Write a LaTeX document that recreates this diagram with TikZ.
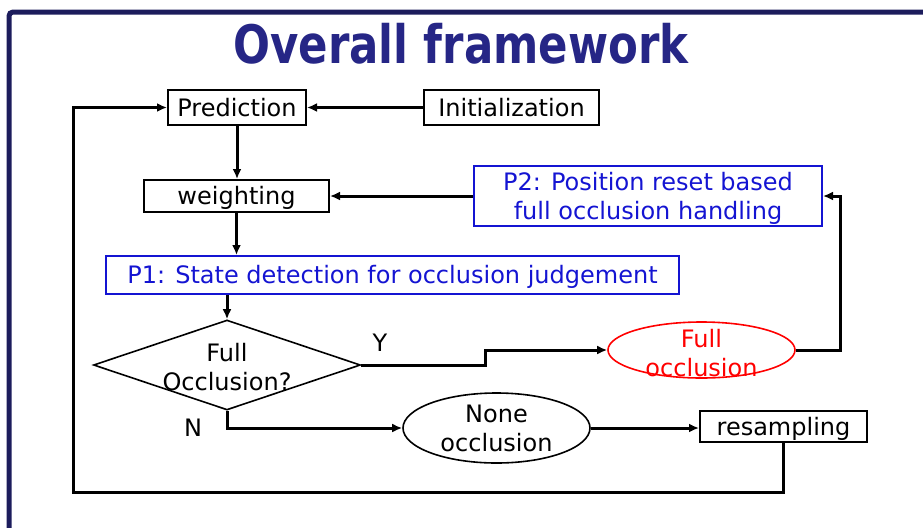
\documentclass[tikz,border=0pt]{standalone}
\usepackage{fontspec}
\setmainfont{DejaVu Sans}
\newfontfamily\titlefont[FakeStretch=0.82]{DejaVu Sans}
\usetikzlibrary{arrows.meta,shapes.geometric}
\definecolor{framenavy}{RGB}{28,28,92}
\definecolor{titlenavy}{RGB}{38,38,134}
\definecolor{partblue}{RGB}{20,20,210}

\begin{document}
\begin{tikzpicture}[x=0.5pt,y=-0.5pt,
    font=\fontsize{12}{14.5}\selectfont,
    stepbox/.style={draw,line width=1pt,inner sep=0pt,text depth=0.5pt,minimum height=17.5pt},
    partbox/.style={stepbox,draw=partblue,text=partblue,align=center},
    state/.style={ellipse,draw,line width=0.8pt,minimum width=93.5pt,inner sep=0pt},
    flow/.style={line width=1.5pt,-{Latex[length=5pt,width=4.5pt]}}]
        \useasboundingbox (0,0) rectangle (923,527);
        % frame and title
        \draw[framenavy,line width=2.5pt,rounded corners=2pt] (9,540) -- (9,12) -- (935,12);
        \node[anchor=base,text=titlenavy,font=\titlefont\bfseries\fontsize{26.5}{30}\selectfont] (title) at (461,63) {Overall framework};
        % main chain
        \node[stepbox,minimum width=69pt] (pred) at (237,107.5) {Prediction};
        \node[stepbox,minimum width=87.5pt] (init) at (511.5,107.5) {Initialization};
        \node[stepbox,minimum width=92.5pt,minimum height=16pt] (weight) at (236.5,196) {weighting};
        \node[partbox,minimum width=174pt,minimum height=30pt] (reset) at (648,196) {P2: Position reset based\\full occlusion handling};
        \node[partbox,minimum width=286.5pt,minimum height=19pt] (detect) at (392.5,275) {P1: State detection for occlusion judgement};
        % decision
        \node[diamond,draw,line width=0.8pt,inner sep=0pt,minimum width=133.5pt,minimum height=45pt] (judge) at (227,365) {};
        \node[align=center,inner sep=0pt] (judgetext) at (227,367) {Full\\Occlusion?};
        \node (yes) at (380,343) {Y};
        \node (no) at (193,428) {N};
        % occlusion states
        \node[state,draw=red,minimum height=28pt] (full) at (701.5,350) {};
        \node[align=center,text=red,inner sep=0pt] (fulltext) at (701.5,353) {Full\\occlusion};
        \node[state,minimum height=35pt] (none) at (496.5,428) {};
        \node[align=center,inner sep=0pt] (nonetext) at (496.5,428) {None\\occlusion};
        \node[stepbox,minimum width=83.5pt,minimum height=15.5pt] (resample) at (783.5,426.5) {resampling};
        \coordinate (loop) at (73,492);
        % connectors
        \draw[flow] (init) -- (pred);
        \draw[flow] (pred.south) -- (pred.south |- weight.north);
        \draw[flow] (reset) -- (weight);
        \draw[flow] (weight.south) -- (weight.south |- detect.north);
        \draw[flow] (judge.north |- detect.south) -- (judge.north);
        \draw[flow] (judge.east) -- ++(124,0) |- (full.west);
        \draw[flow] (full.east) -- ++(45,0) |- (reset.east);
        \draw[flow] (judge.south) |- (none.west);
        \draw[flow] (none.east) -- (none.east -| resample.west);
        \draw[flow] (resample.south) |- (loop) |- (pred.west);
    \end{tikzpicture}
\end{document}
